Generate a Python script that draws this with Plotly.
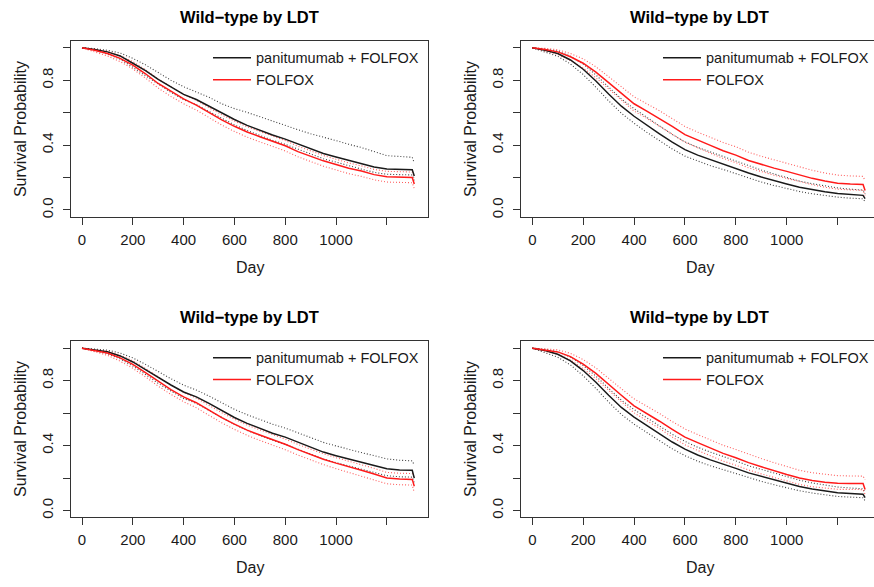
import plotly.graph_objects as go

# ---------------- data ----------------
DAYS = [0, 50, 100, 150, 200, 250, 300, 350, 400, 450, 500, 550, 600, 650, 700,
        750, 800, 850, 900, 950, 1000, 1050, 1100, 1150, 1200, 1250, 1300, 1308]

TITLE = "Wild\u2212type by LDT"
NAME_PAN = "panitumumab + FOLFOX"
NAME_FOL = "FOLFOX"

X_TICKS = [0, 200, 400, 600, 800, 1000, 1200]
X_TICKTEXT = ["0", "200", "400", "600", "800", "1000", ""]
Y_TICKS = [0.0, 0.2, 0.4, 0.6, 0.8, 1.0]
Y_TICKTEXT = ["0.0", "", "0.4", "", "0.8", ""]

# panel 1 (top-left)
p1_pan = [1.0, 0.99, 0.975, 0.95, 0.905, 0.86, 0.805, 0.757, 0.713, 0.681, 0.64, 0.598, 0.558, 0.522,
          0.49, 0.462, 0.437, 0.408, 0.378, 0.348, 0.327, 0.305, 0.285, 0.265, 0.252, 0.25, 0.248, 0.21]
p1_pan_hi = [1.0, 0.995, 0.985, 0.968, 0.935, 0.895, 0.848, 0.80, 0.76, 0.728, 0.695, 0.655, 0.625, 0.602,
             0.575, 0.545, 0.518, 0.495, 0.47, 0.45, 0.428, 0.405, 0.385, 0.36, 0.335, 0.33, 0.325, 0.29]
p1_pan_lo = [1.0, 0.985, 0.962, 0.93, 0.88, 0.828, 0.772, 0.725, 0.68, 0.65, 0.607, 0.565, 0.525, 0.49,
             0.458, 0.43, 0.405, 0.375, 0.345, 0.316, 0.295, 0.272, 0.252, 0.232, 0.22, 0.218, 0.216, 0.18]
p1_fol = [1.0, 0.985, 0.965, 0.935, 0.893, 0.84, 0.78, 0.73, 0.685, 0.647, 0.60, 0.556, 0.516, 0.481,
          0.452, 0.425, 0.396, 0.36, 0.332, 0.303, 0.28, 0.257, 0.24, 0.218, 0.205, 0.202, 0.20, 0.16]
p1_fol_hi = [1.0, 0.993, 0.978, 0.952, 0.915, 0.865, 0.807, 0.758, 0.713, 0.676, 0.63, 0.587, 0.548, 0.513,
             0.484, 0.457, 0.428, 0.393, 0.365, 0.336, 0.313, 0.29, 0.272, 0.25, 0.238, 0.236, 0.234, 0.20]
p1_fol_lo = [1.0, 0.977, 0.95, 0.915, 0.87, 0.813, 0.752, 0.70, 0.655, 0.616, 0.568, 0.524, 0.484, 0.449,
             0.42, 0.393, 0.364, 0.328, 0.30, 0.27, 0.247, 0.224, 0.207, 0.186, 0.172, 0.17, 0.168, 0.13]

# panel 2 (top-right)
p2_pan = [1.0, 0.985, 0.965, 0.925, 0.868, 0.795, 0.715, 0.64, 0.578, 0.522, 0.47, 0.418, 0.372, 0.338,
          0.31, 0.285, 0.257, 0.228, 0.203, 0.18, 0.16, 0.14, 0.125, 0.113, 0.102, 0.095, 0.09, 0.07]
p2_pan_hi = [1.0, 0.993, 0.98, 0.948, 0.90, 0.833, 0.758, 0.685, 0.625, 0.57, 0.518, 0.466, 0.42, 0.386,
             0.358, 0.332, 0.303, 0.272, 0.246, 0.222, 0.20, 0.178, 0.162, 0.148, 0.136, 0.128, 0.123, 0.10]
p2_pan_lo = [1.0, 0.975, 0.948, 0.90, 0.835, 0.757, 0.673, 0.597, 0.535, 0.479, 0.428, 0.376, 0.332, 0.30,
             0.273, 0.25, 0.223, 0.196, 0.172, 0.151, 0.132, 0.114, 0.10, 0.089, 0.079, 0.073, 0.069, 0.05]
p2_fol = [1.0, 0.99, 0.975, 0.945, 0.905, 0.85, 0.785, 0.72, 0.655, 0.61, 0.565, 0.515, 0.465, 0.43,
          0.398, 0.365, 0.338, 0.305, 0.28, 0.258, 0.238, 0.215, 0.195, 0.178, 0.165, 0.16, 0.157, 0.12]
p2_fol_hi = [1.0, 0.997, 0.988, 0.965, 0.932, 0.883, 0.822, 0.76, 0.698, 0.655, 0.612, 0.563, 0.515, 0.48,
             0.448, 0.416, 0.39, 0.356, 0.331, 0.309, 0.288, 0.265, 0.245, 0.228, 0.215, 0.21, 0.207, 0.18]
p2_fol_lo = [1.0, 0.982, 0.96, 0.922, 0.876, 0.815, 0.745, 0.678, 0.61, 0.565, 0.518, 0.468, 0.418, 0.383,
             0.35, 0.318, 0.292, 0.26, 0.236, 0.214, 0.195, 0.174, 0.156, 0.14, 0.128, 0.124, 0.121, 0.09]

# panel 3 (bottom-left)
p3_pan = [1.0, 0.99, 0.978, 0.952, 0.915, 0.868, 0.818, 0.773, 0.73, 0.70, 0.66, 0.615, 0.573, 0.537,
          0.505, 0.476, 0.452, 0.42, 0.39, 0.36, 0.338, 0.316, 0.297, 0.278, 0.258, 0.25, 0.248, 0.20]
p3_pan_hi = [1.0, 0.995, 0.988, 0.97, 0.94, 0.90, 0.855, 0.812, 0.772, 0.742, 0.705, 0.662, 0.623, 0.59,
             0.56, 0.532, 0.508, 0.478, 0.448, 0.42, 0.398, 0.376, 0.357, 0.338, 0.318, 0.31, 0.306, 0.28]
p3_pan_lo = [1.0, 0.984, 0.966, 0.934, 0.89, 0.838, 0.783, 0.736, 0.69, 0.66, 0.618, 0.572, 0.53, 0.494,
             0.462, 0.433, 0.408, 0.376, 0.346, 0.317, 0.295, 0.273, 0.254, 0.235, 0.215, 0.208, 0.206, 0.17]
p3_fol = [1.0, 0.987, 0.97, 0.94, 0.90, 0.85, 0.795, 0.745, 0.70, 0.664, 0.618, 0.572, 0.532, 0.495,
          0.465, 0.438, 0.408, 0.375, 0.345, 0.316, 0.292, 0.268, 0.248, 0.225, 0.20, 0.194, 0.192, 0.15]
p3_fol_hi = [1.0, 0.993, 0.982, 0.957, 0.922, 0.875, 0.822, 0.772, 0.727, 0.692, 0.647, 0.602, 0.563, 0.526,
             0.497, 0.47, 0.44, 0.407, 0.378, 0.35, 0.326, 0.302, 0.282, 0.26, 0.235, 0.23, 0.228, 0.20]
p3_fol_lo = [1.0, 0.979, 0.956, 0.92, 0.876, 0.823, 0.766, 0.715, 0.67, 0.633, 0.587, 0.54, 0.50, 0.463,
             0.432, 0.405, 0.375, 0.342, 0.312, 0.283, 0.258, 0.234, 0.214, 0.19, 0.165, 0.159, 0.157, 0.11]

# panel 4 (bottom-right)
p4_pan = [1.0, 0.985, 0.962, 0.922, 0.862, 0.79, 0.71, 0.635, 0.575, 0.524, 0.475, 0.422, 0.378, 0.342,
          0.312, 0.287, 0.26, 0.232, 0.21, 0.188, 0.167, 0.148, 0.133, 0.122, 0.11, 0.105, 0.10, 0.08]
p4_pan_hi = [1.0, 0.993, 0.978, 0.945, 0.893, 0.828, 0.753, 0.68, 0.622, 0.572, 0.523, 0.47, 0.426, 0.39,
             0.36, 0.334, 0.306, 0.276, 0.253, 0.23, 0.208, 0.187, 0.17, 0.158, 0.145, 0.139, 0.134, 0.11]
p4_pan_lo = [1.0, 0.974, 0.944, 0.897, 0.83, 0.752, 0.668, 0.592, 0.532, 0.481, 0.433, 0.38, 0.338, 0.304,
             0.276, 0.252, 0.227, 0.20, 0.18, 0.159, 0.14, 0.122, 0.108, 0.098, 0.087, 0.083, 0.079, 0.06]
p4_fol = [1.0, 0.99, 0.977, 0.948, 0.902, 0.845, 0.775, 0.71, 0.645, 0.60, 0.55, 0.50, 0.452, 0.418,
          0.385, 0.352, 0.325, 0.295, 0.27, 0.245, 0.222, 0.20, 0.185, 0.175, 0.168, 0.167, 0.166, 0.13]
p4_fol_hi = [1.0, 0.997, 0.99, 0.968, 0.93, 0.878, 0.812, 0.75, 0.688, 0.645, 0.597, 0.548, 0.502, 0.468,
             0.435, 0.402, 0.376, 0.346, 0.32, 0.295, 0.271, 0.248, 0.233, 0.222, 0.215, 0.213, 0.212, 0.19]
p4_fol_lo = [1.0, 0.982, 0.962, 0.927, 0.874, 0.812, 0.738, 0.67, 0.602, 0.556, 0.505, 0.453, 0.405, 0.37,
             0.337, 0.305, 0.279, 0.25, 0.226, 0.203, 0.181, 0.161, 0.147, 0.138, 0.131, 0.13, 0.129, 0.10]

# ---------------- layout geometry (pixels) ----------------
W, H = 874, 587
FONT = "Liberation Sans, Arial, Helvetica, sans-serif"
BLACK = "#1a1a1a"
RED = "#ff1a1a"
TXT = "#1a1a1a"

panels = [
    dict(l=71, r=428, t=41, b=218, xr=[-43.3, 1362], yr=[-0.045, 1.043],
         data=(p1_pan, p1_pan_lo, p1_pan_hi, p1_fol, p1_fol_lo, p1_fol_hi), right=False),
    dict(l=521, r=874, t=41, b=218, xr=[-44.4, 1343], yr=[-0.045, 1.043],
         data=(p2_pan, p2_pan_lo, p2_pan_hi, p2_fol, p2_fol_lo, p2_fol_hi), right=True),
    dict(l=71, r=428, t=342, b=519, xr=[-43.3, 1362], yr=[-0.041, 1.045],
         data=(p3_pan, p3_pan_lo, p3_pan_hi, p3_fol, p3_fol_lo, p3_fol_hi), right=False),
    dict(l=521, r=874, t=342, b=519, xr=[-44.4, 1343], yr=[-0.041, 1.045],
         data=(p4_pan, p4_pan_lo, p4_pan_hi, p4_fol, p4_fol_lo, p4_fol_hi), right=True),
]

fig = go.Figure()
annotations = []
layout_extra = {}

for i, p in enumerate(panels):
    k = "" if i == 0 else str(i + 1)
    xa, ya = "x" + k, "y" + k
    leg = "legend" + k
    pan, pan_lo, pan_hi, fol, fol_lo, fol_hi = p["data"]

    for ys, col in ((pan_hi, "rgba(30,30,30,0.85)"), (pan_lo, "rgba(30,30,30,0.85)"),
                    (fol_hi, "rgba(255,40,40,0.75)"), (fol_lo, "rgba(255,40,40,0.75)")):
        fig.add_trace(go.Scatter(x=DAYS, y=ys, mode="lines", xaxis=xa, yaxis=ya,
                                 line=dict(color=col, width=1.1, dash="1px,2px"),
                                 showlegend=False, hoverinfo="skip"))
    fig.add_trace(go.Scatter(x=DAYS, y=pan, mode="lines", xaxis=xa, yaxis=ya, name=NAME_PAN,
                             line=dict(color=BLACK, width=1.5), legend=leg))
    fig.add_trace(go.Scatter(x=DAYS, y=fol, mode="lines", xaxis=xa, yaxis=ya, name=NAME_FOL,
                             line=dict(color=RED, width=1.5), legend=leg))

    xdom = [p["l"] / W, p["r"] / W]
    ydom = [1 - p["b"] / H, 1 - p["t"] / H]
    axis_common = dict(showgrid=False, zeroline=False, showline=True, linecolor="#333333",
                       linewidth=1, ticks="outside", ticklen=7, tickcolor="#333333",
                       tickfont=dict(family=FONT, size=15, color=TXT))
    layout_extra["xaxis" + k] = dict(domain=xdom, range=p["xr"], anchor=ya,
                                     tickmode="array", tickvals=X_TICKS, ticktext=X_TICKTEXT,
                                     mirror=True, ticklabelstandoff=2, **axis_common)
    layout_extra["yaxis" + k] = dict(domain=ydom, range=p["yr"], anchor=xa,
                                     tickmode="array", tickvals=Y_TICKS, ticktext=Y_TICKTEXT,
                                     tickangle=-90, mirror=not p["right"], ticklabelstandoff=4,
                                     **axis_common)
    layout_extra[leg] = dict(x=(p["l"] + 137) / W, y=1 - (p["t"] + 1) / H,
                             xanchor="left", yanchor="top", bgcolor="rgba(0,0,0,0)",
                             font=dict(family=FONT, size=14.5, color=TXT),
                             tracegroupgap=0, itemwidth=38)

    cx = (p["l"] + (p["l"] + 357)) / 2 / W
    annotations.append(dict(text="<b>" + TITLE + "</b>", x=cx, y=1 - (p["t"] - 24) / H,
                            xref="paper", yref="paper", showarrow=False,
                            xanchor="center", yanchor="middle",
                            font=dict(family=FONT, size=16.5, color="#000000")))
    annotations.append(dict(text="Day", x=cx, y=1 - (p["b"] + 50) / H,
                            xref="paper", yref="paper", showarrow=False,
                            xanchor="center", yanchor="middle",
                            font=dict(family=FONT, size=16, color=TXT)))
    annotations.append(dict(text="Survival Probability", x=(p["l"] - 51) / W,
                            y=1 - (p["t"] + p["b"]) / 2 / H,
                            xref="paper", yref="paper", showarrow=False, textangle=-90,
                            xanchor="center", yanchor="middle",
                            font=dict(family=FONT, size=16, color=TXT)))

fig.update_layout(width=W, height=H, margin=dict(l=0, r=0, t=0, b=0),
                  paper_bgcolor="white", plot_bgcolor="white",
                  annotations=annotations, **layout_extra)

fig.write_html("out.html", config={"displayModeBar": False},
               post_script="document.body.style.margin='0px';document.body.style.overflow='hidden';")
